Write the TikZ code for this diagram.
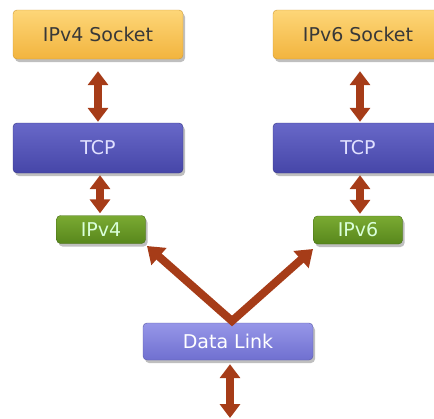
\documentclass[tikz,border=0pt]{standalone}
\usepackage{fontspec}
\setmainfont{DejaVu Sans}
\usetikzlibrary{arrows.meta,shadows,calc}
\definecolor{arrowc}{RGB}{166,60,24}
\definecolor{sockT}{RGB}{253,214,120}
\definecolor{sockB}{RGB}{242,180,62}
\definecolor{tcpT}{RGB}{104,104,200}
\definecolor{tcpB}{RGB}{70,70,168}
\definecolor{ipT}{RGB}{122,170,50}
\definecolor{ipB}{RGB}{88,135,28}
\definecolor{dlT}{RGB}{150,150,232}
\definecolor{dlB}{RGB}{112,112,208}
\tikzset{
  box/.style={rectangle, rounded corners=4pt, inner sep=0pt,
    font=\fontsize{19}{20}\selectfont,
    drop shadow={shadow xshift=2pt, shadow yshift=-3pt, opacity=0.5}},
  sockbox/.style={box, minimum width=170pt, minimum height=49pt,
    top color=sockT, bottom color=sockB, draw=sockB!85!black, text=black!78},
  tcpbox/.style={box, minimum width=170pt, minimum height=50pt,
    top color=tcpT, bottom color=tcpB, draw=tcpB!80!black, text=white!88!blue},
  ipbox/.style={box, minimum width=89pt, minimum height=28pt,
    top color=ipT, bottom color=ipB, draw=ipB!80!black, text=white!85!green},
  dlbox/.style={box, minimum width=170pt, minimum height=37pt,
    top color=dlT, bottom color=dlB, draw=dlB!80!black, text=white},
  dbl/.style={arrowc, line width=8pt,
    {Triangle[width=20pt,length=14pt]}-{Triangle[width=20pt,length=14pt]}},
  sgl/.style={arrowc, line width=8pt, line join=miter,
    {Triangle[width=22pt,length=16pt]}-{Triangle[width=22pt,length=16pt]}}
}
\begin{document}
\begin{tikzpicture}[x=1pt,y=-1pt]
\useasboundingbox (0,0) rectangle (434,418);
\clip (0,0) rectangle (434,418);
\node[sockbox] (sock4) at (98,34.5) {IPv4 Socket};
\node[sockbox] (sock6) at (358,34.5) {IPv6 Socket};
\node[tcpbox] (tcp4) at (98,148) {TCP};
\node[tcpbox] (tcp6) at (358,148) {TCP};
\node[ipbox] (ip4) at (101,229.5) {IPv4};
\node[ipbox] (ip6) at (358,230) {IPv6};
\node[dlbox] (dl) at (228,341.5) {Data Link};
\coordinate (down) at (230,418);
\coordinate (apex) at (232,321);
\coordinate (t4) at (147,246);
\coordinate (t6) at (313,249);
\draw[dbl] ([xshift=0pt,yshift=-12pt]sock4.south) -- ([yshift=1pt]tcp4.north);
\draw[dbl] ([xshift=2pt,yshift=-2pt]tcp4.south) -- ([xshift=-1pt,yshift=2pt]ip4.north);
\draw[dbl] ([xshift=2pt,yshift=-12pt]sock6.south) -- ([xshift=2pt,yshift=1pt]tcp6.north);
\draw[dbl] ([xshift=2pt,yshift=-2pt]tcp6.south) -- ([xshift=2pt,yshift=2pt]ip6.north);
\draw[sgl] (t4) -- (apex) -- (t6);
\draw[dbl] ([xshift=2pt,yshift=-4pt]dl.south) -- (down);
\end{tikzpicture}
\end{document}
